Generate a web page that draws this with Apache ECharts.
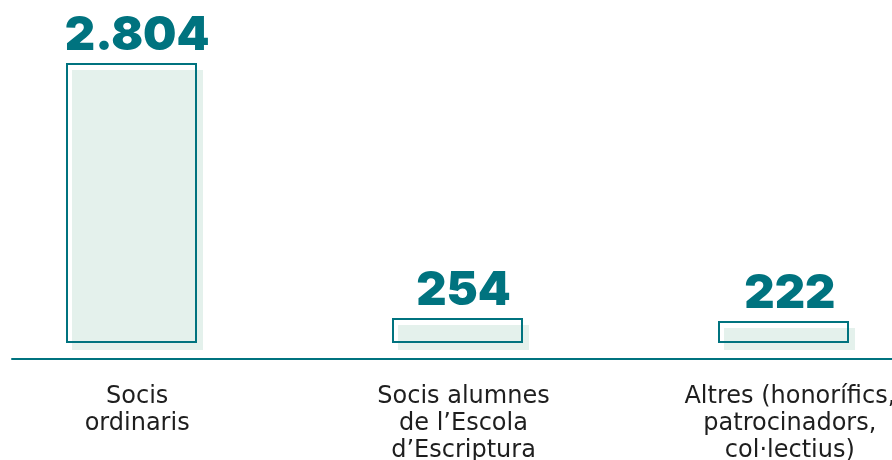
<!DOCTYPE html>
<html>
<head>
<meta charset="utf-8">
<script src="https://cdn.jsdelivr.net/npm/echarts@6/dist/echarts.min.js"></script>
<style>
html,body{margin:0;padding:0;background:#fff;}
#chart{width:892px;height:460px;}
</style>
</head>
<body>
<div id="chart"></div>
<script>
const categories = ['Socis\nordinaris', 'Socis alumnes\nde l\u2019Escola\nd\u2019Escriptura', 'Altres (honor\u00edfics,\npatrocinadors,\ncol\u00b7lectius)'];
const values = [2804, 254, 222];

const TEAL = '#00737f';
const MINT = '#e4f1ec';

function fmt(v) {
  return String(v).replace(/\B(?=(\d{3})+(?!\d))/g, '.');
}

const chart = echarts.init(document.getElementById('chart'), null, {renderer: 'canvas'});

chart.setOption({
  animation: false,
  backgroundColor: '#ffffff',
  grid: [
    {left: -26, right: -61, top: 70, bottom: 110, outerBoundsMode: 'none', containLabel: false},
    {left: 12, right: 0, top: 70, bottom: 101, outerBoundsMode: 'none', containLabel: false}
  ],
  xAxis: [
    {
      type: 'category', gridIndex: 0, data: categories,
      axisLine: {show: false}, axisTick: {show: false},
      axisLabel: {
        interval: 0, margin: 33, hideOverlap: false,
        fontFamily: 'DejaVu Sans', fontSize: 24, lineHeight: 27,
        color: '#1e1e1e', align: 'center'
      }
    },
    {
      type: 'category', gridIndex: 1, data: [''],
      axisLine: {show: true, lineStyle: {color: TEAL, width: 2}},
      axisTick: {show: false}, axisLabel: {show: false}
    }
  ],
  yAxis: [
    {type: 'value', gridIndex: 0, min: 0, max: 2804, show: false},
    {type: 'value', gridIndex: 1, show: false}
  ],
  series: [{
    type: 'custom',
    xAxisIndex: 0, yAxisIndex: 0,
    data: values.map((v, i) => [i, v]),
    renderItem: function (params, api) {
      const idx = api.value(0);
      const v = api.value(1);
      const topPt = api.coord([idx, v]);
      const basePt = api.coord([idx, 0]);
      const bw = Math.round(api.size([1, 0])[0] * 0.401);
      const fx = Math.round(topPt[0] - bw / 2);
      const fy = Math.round(topPt[1]);
      const h = Math.round(basePt[1]) - fy;
      return {
        type: 'group',
        children: [
          {type: 'rect', shape: {x: fx, y: fy, width: bw, height: h}, style: {fill: MINT}},
          {type: 'rect', shape: {x: fx - 5, y: fy - 6, width: bw - 2, height: h - 2},
            style: {fill: 'none', stroke: TEAL, lineWidth: 2}},
          {type: 'text', style: {
            x: topPt[0], y: fy - 11, text: fmt(v),
            fontFamily: 'Inter', fontWeight: 900, fontSize: 47,
            fill: TEAL, align: 'center', verticalAlign: 'bottom'
          }}
        ]
      };
    }
  }]
});
</script>
</body>
</html>
